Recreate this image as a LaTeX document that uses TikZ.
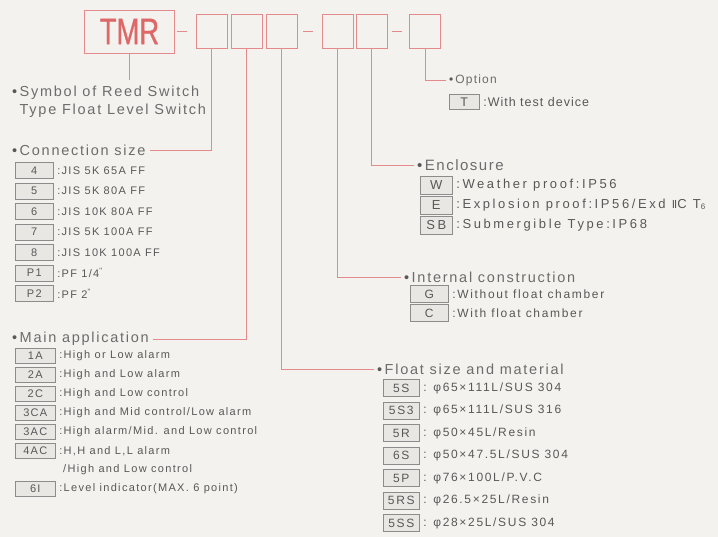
\documentclass[tikz,border=0pt]{standalone}
\usepackage{fontspec}
\setmainfont{Liberation Sans}
\newfontfamily\tmrf{Liberation Sans}[FakeStretch=0.74,FakeBold=0.8]
\newfontfamily\bodyf{Liberation Sans}[LetterSpace=12]
\newfontfamily\rightf{Liberation Sans}[LetterSpace=14]
\newfontfamily\encf{Liberation Sans}[LetterSpace=20]
\newfontfamily\optf{Liberation Sans}[LetterSpace=8]
\newfontfamily\headf{Liberation Sans}[LetterSpace=12]
\newfontfamily\bighf{Liberation Sans}[LetterSpace=10]
\newfontfamily\dejaf{DejaVu Sans}
\definecolor{bg}{HTML}{F3F2EF}
\definecolor{redl}{HTML}{E58A8A}
\definecolor{tmrc}{HTML}{DE6868}
\definecolor{txt}{HTML}{585858}
\definecolor{hdr}{HTML}{6C6C6C}
\definecolor{boxd}{HTML}{8C8C8C}
\definecolor{boxf}{HTML}{E8E7E4}
\newcommand\fbody{\bodyf\fontsize{11}{13}\selectfont}
\newcommand\fright{\rightf\fontsize{12}{14}\selectfont}
\newcommand\fencrow{\encf\fontsize{13}{15}\selectfont}
\newcommand\foptrow{\optf\fontsize{12.5}{14}\selectfont}
\newcommand\fhead{\headf\fontsize{14.5}{18}\selectfont}
\newcommand\fenc{\bighf\fontsize{15}{17}\selectfont}
\newcommand\fopt{\bighf\fontsize{12}{14}\selectfont}
\newcommand\blt{{\color{txt}\textbullet}\,}
\tikzset{
  codebox/.style={draw=redl, line width=0.9pt, minimum width=31pt, minimum height=34pt, inner sep=0pt},
  tmrbox/.style={draw=redl, line width=0.9pt, minimum width=90pt, minimum height=43pt, inner sep=0pt, text=tmrc, font=\tmrf\fontsize{37}{37}\selectfont},
  dashmark/.style={fill=redl, minimum width=10pt, minimum height=1.6pt, inner sep=0pt},
  conn/.style={draw=redl, line width=0.8pt},
  keybox/.style={draw=boxd, fill=boxf, line width=0.6pt, inner sep=0pt, anchor=west, text=txt, font=\fbody},
  desc/.style={anchor=west, inner sep=0pt, text=txt, font=\fbody},
  head/.style={anchor=west, inner sep=0pt, text=hdr, font=\fhead},
}
% name, x, y, width, height, key, description, font
\newcommand\krow[8]{%
  \node[keybox, font=#8, minimum width=#4pt, minimum height=#5pt] (#1) at (#2,#3) {#6};
  \node[desc, font=#8] (#1d) at ([xshift=3.5pt]#1.east) {#7};}
\begin{document}
\begin{tikzpicture}[x=1pt,y=-1pt]
\fill[bg] (0,0) rectangle (718,537);
\useasboundingbox (0,0) rectangle (718,537);

% ---- code line
\node[tmrbox] (tmr) at (129.5,31.5) {TMR};
\node[dashmark] (m1) at (182,31.5) {};
\node[codebox] (b1) at (211.5,31) {};
\node[codebox] (b2) at (246.5,31) {};
\node[codebox] (b3) at (281.5,31) {};
\node[dashmark] (m2) at (307.5,31.5) {};
\node[codebox] (b4) at (337.5,31) {};
\node[codebox] (b5) at (371.5,31) {};
\node[dashmark] (m3) at (396.5,31.5) {};
\node[codebox] (b6) at (425,31) {};

% ---- symbol
\node[anchor=north west, inner sep=0pt, align=left, text=hdr, font=\headf\fontsize{14.5}{18}\selectfont] (sym) at (12,86)
  {\blt Symbol of Reed Switch\\\phantom{\blt}Type Float Level Switch};
\coordinate (symtop) at (129.5,80);
\draw[conn] (tmr.south) -- (symtop);

% ---- connection size
\node[head] (connh) at (12,150) {\blt Connection size};
\draw[conn] (b1.south) |- ([xshift=4pt]connh.east);
\krow{c4}{15}{170.5}{38}{16}{4}{:JIS 5K 65A FF}{\fbody}
\krow{c5}{15}{191}{38}{16}{5}{:JIS 5K 80A FF}{\fbody}
\krow{c6}{15}{211.5}{38}{16}{6}{:JIS 10K 80A FF}{\fbody}
\krow{c7}{15}{232}{38}{16}{7}{:JIS 5K 100A FF}{\fbody}
\krow{c8}{15}{252.5}{38}{16}{8}{:JIS 10K 100A FF}{\fbody}
\krow{cp1}{15}{273}{38}{16}{P1}{:PF 1/4\textsuperscript{"}}{\fbody}
\krow{cp2}{15}{293.5}{38}{16}{P2}{:PF 2\textsuperscript{"}}{\fbody}

% ---- main application
\node[head] (mainh) at (12,339) {\blt Main application};
\draw[conn] (b2.south) |- ([xshift=4pt]mainh.east);
\krow{a1}{15}{356}{40}{15}{1A}{:High or Low alarm}{\fbody}
\krow{a2}{15}{375}{40}{15}{2A}{:High and Low alarm}{\fbody}
\krow{a3}{15}{394}{40}{15}{2C}{:High and Low control}{\fbody}
\krow{a4}{15}{413}{40}{15}{3CA}{:High and Mid control/Low alarm}{\fbody}
\krow{a5}{15}{432}{40}{15}{3AC}{:High alarm/Mid. and Low control}{\fbody}
\krow{a6}{15}{451}{40}{15}{4AC}{:H,H and L,L alarm}{\fbody}
\node[desc] (a6e) at (63,470) {/High and Low control};
\krow{a7}{15}{489}{40}{15}{6I}{:Level indicator(MAX. 6 point)}{\fbody}

% ---- float size
\node[head] (floath) at (377,369) {\blt Float size and material};
\draw[conn] (b3.south) |- ([xshift=-3pt]floath.west);
\krow{f1}{383}{388}{36}{17}{5S}{: φ65×111L/SUS 304}{\fright}
\krow{f2}{383}{410.5}{36}{17}{5S3}{: φ65×111L/SUS 316}{\fright}
\krow{f3}{383}{433}{36}{17}{5R}{: φ50×45L/Resin}{\fright}
\krow{f4}{383}{455.5}{36}{17}{6S}{: φ50×47.5L/SUS 304}{\fright}
\krow{f5}{383}{478}{36}{17}{5P}{: φ76×100L/P.V.C}{\fright}
\krow{f6}{383}{500.5}{36}{17}{5RS}{: φ26.5×25L/Resin}{\fright}
\krow{f7}{383}{523}{36}{17}{5SS}{: φ28×25L/SUS 304}{\fright}

% ---- internal construction
\node[head] (inth) at (404,277) {\blt Internal construction};
\draw[conn] (b4.south) |- ([xshift=-3pt]inth.west);
\krow{g1}{410}{294}{38}{17}{G}{:Without float chamber}{\fright}
\krow{g2}{410}{313}{38}{17}{C}{:With float chamber}{\fright}

% ---- enclosure
\node[head, font=\fenc] (ench) at (417,165) {\blt Enclosure};
\draw[conn] (b5.south) |- ([xshift=-3pt]ench.west);
\krow{e1}{420}{185}{32}{18}{W}{:Weather proof:IP56}{\fencrow}
\krow{e2}{420}{205}{32}{18}{E}{:Explosion proof:IP56/Exd {\dejaf\fontsize{11}{13}\selectfont Ⅱ}C T\raisebox{-1.5pt}{\fontsize{8}{8}\selectfont 6}}{\fencrow}
\krow{e3}{420}{225}{32}{18}{SB}{:Submergible Type:IP68}{\fencrow}

% ---- option
\node[head, font=\fopt] (opth) at (449,80) {\blt Option};
\draw[conn] (b6.south) |- ([xshift=-3pt]opth.west);
\krow{o1}{449}{102}{30}{15}{T}{:With test device}{\foptrow}
\end{tikzpicture}
\end{document}
